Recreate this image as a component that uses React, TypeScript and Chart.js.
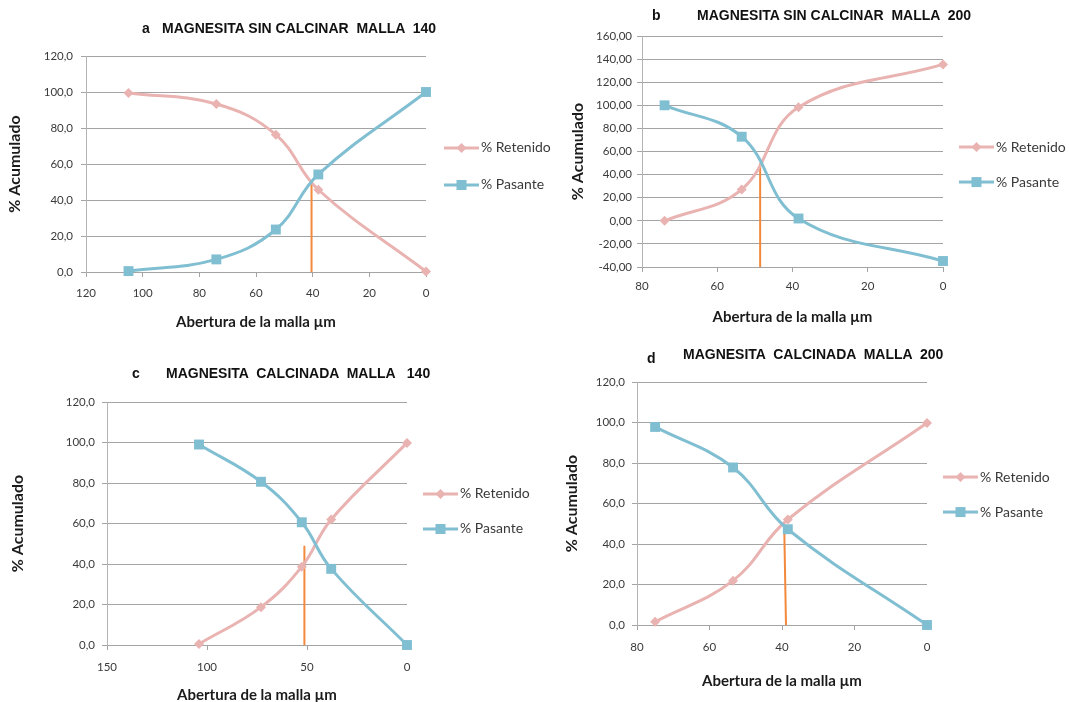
import React, { useEffect, useRef } from "react";
import { Chart, registerables } from "chart.js";

Chart.register(...registerables);
const FONT_FAMILY = "Lato, 'Liberation Sans', sans-serif";
Chart.defaults.font.family = FONT_FAMILY;

// ---------- data ----------
// a: Magnesita sin calcinar, malla 140
const aperturaA = [105, 74, 53, 38, 0];
const retenidoA = [99.5, 93.3, 76.3, 45.7, 0.3];
const pasanteA = [0.5, 7, 23.6, 54.2, 100];
const d50xA = [40.4, 40.4];
const d50yA = [0, 51];

// b: Magnesita sin calcinar, malla 200
const aperturaB = [74, 53.5, 38.4, 0];
const retenidoB = [0, 27.2, 98.3, 135.4];
const pasanteB = [100, 72.8, 2, -34.8];
const d50xB = [48.6, 48.6];
const d50yB = [-40, 50];

// c: Magnesita calcinada, malla 140
const aperturaC = [104, 73, 52.6, 37.9, 0];
const retenidoC = [0.5, 18.7, 38.7, 62, 99.8];
const pasanteC = [99, 80.6, 60.6, 37.6, 0];
const d50xC = [51.3, 51.3];
const d50yC = [0, 49];

// d: Magnesita calcinada, malla 200
const aperturaD = [75, 53.5, 38.4, 0];
const retenidoD = [1.6, 21.9, 52.1, 99.8];
const pasanteD = [97.8, 77.8, 47.3, 0];
const d50xD = [39.4, 38.9];
const d50yD = [50, 0];

const serieRetenido = "% Retenido";
const seriePasante = "% Pasante";
const xAxisTitle = "Abertura de la malla µm";
const yAxisTitle = "% Acumulado";

// ---------- styles ----------
const PINK = "#e9b3b1";
const BLUE = "#80bed2";
const ORANGE = "#f2893c";
const GRID = "#a4a4a4";
const AXIS = "#b4b4b4";
const TICK_COLOR = "#3a3a3a";
const TITLE_COLOR = "#1b1b1b";
const LEGEND_FONT = 14;
const LEGEND_BOX = 25;

function makeSymbol(color: string, shape: "diamond" | "square"): HTMLCanvasElement {
  const c = document.createElement("canvas");
  c.width = 35;
  c.height = 14;
  const g = c.getContext("2d")!;
  g.strokeStyle = color;
  g.lineWidth = 3;
  g.beginPath();
  g.moveTo(0, 7);
  g.lineTo(35, 7);
  g.stroke();
  g.fillStyle = color;
  if (shape === "diamond") {
    g.beginPath();
    g.moveTo(17.5, 2);
    g.lineTo(22.5, 7);
    g.lineTo(17.5, 12);
    g.lineTo(12.5, 7);
    g.closePath();
    g.fill();
  } else {
    g.fillRect(12.5, 2, 10, 10);
  }
  return c;
}

type Spec = {
  box: { x: number; y: number; w: number; h: number };
  xs: number[];
  ret: number[];
  pas: number[];
  d50x: number[];
  d50y: number[];
  xr: { min: number; max: number; step: number };
  yr: { min: number; max: number; step: number; dec: number };
  pad: { left: number; top: number; bottom: number };
  chartRight: number;
  yWidth: number;
  xHeight: number;
  yTickPad: number;
  xTickPad: number;
  legendPad: number;
  legendWeight: number;
};

const specs: Spec[] = [
  {
    box: { x: 0, y: 0, w: 575, h: 340 },
    xs: aperturaA, ret: retenidoA, pas: pasanteA, d50x: d50xA, d50y: d50yA,
    xr: { min: 0, max: 120, step: 20 },
    yr: { min: 0, max: 120, step: 20, dec: 1 },
    pad: { left: 5.4, top: 56, bottom: 9 },
    chartRight: 426,
    yWidth: 80.6, xHeight: 59, yTickPad: 8, xTickPad: 9, legendPad: 23, legendWeight: 1.023,
  },
  {
    box: { x: 560, y: 0, w: 530, h: 340 },
    xs: aperturaB, ret: retenidoB, pas: pasanteB, d50x: d50xB, d50y: d50yB,
    xr: { min: 0, max: 80, step: 20 },
    yr: { min: -40, max: 160, step: 20, dec: 2 },
    pad: { left: 8.4, top: 36, bottom: 14 },
    chartRight: 943,
    yWidth: 73.6, xHeight: 59, yTickPad: 5, xTickPad: 7, legendPad: 21, legendWeight: 1.113,
  },
  {
    box: { x: 0, y: 340, w: 565, h: 372 },
    xs: aperturaC, ret: retenidoC, pas: pasanteC, d50x: d50xC, d50y: d50yC,
    xr: { min: 0, max: 150, step: 50 },
    yr: { min: 0, max: 120, step: 20, dec: 1 },
    pad: { left: 8.4, top: 62, bottom: 8 },
    chartRight: 407,
    yWidth: 98.6, xHeight: 59, yTickPad: 7, xTickPad: 10, legendPad: 21, legendWeight: 0.901,
  },
  {
    box: { x: 555, y: 340, w: 530, h: 362 },
    xs: aperturaD, ret: retenidoD, pas: pasanteD, d50x: d50xD, d50y: d50yD,
    xr: { min: 0, max: 80, step: 20 },
    yr: { min: 0, max: 120, step: 20, dec: 1 },
    pad: { left: 7.4, top: 42, bottom: 12 },
    chartRight: 927,
    yWidth: 74.6, xHeight: 65, yTickPad: 7, xTickPad: 10, legendPad: 21, legendWeight: 0.926,
  },
];

const toPts = (xs: number[], ys: number[]) => xs.map((x, i) => ({ x, y: ys[i] }));

function Panel({ spec }: { spec: Spec }) {
  const ref = useRef<HTMLCanvasElement | null>(null);
  useEffect(() => {
    if (!ref.current) return;
    const symRet = makeSymbol(PINK, "diamond");
    const symPas = makeSymbol(BLUE, "square");

    // legend natural width -> right padding so that the plot ends where the reference does
    const m = document.createElement("canvas").getContext("2d")!;
    m.font = `${LEGEND_FONT}px ${FONT_FAMILY}`;
    const tw = Math.max(m.measureText(serieRetenido).width, m.measureText(seriePasante).width);
    const legendW = spec.legendPad + LEGEND_BOX + LEGEND_FONT / 2 + tw + 10;
    const padRight = Math.max(0, spec.box.x + spec.box.w - spec.chartRight - legendW);

    const chart = new Chart(ref.current, {
      type: "line",
      data: {
        datasets: [
          {
            label: seriePasante,
            data: toPts(spec.xs, spec.pas),
            borderColor: BLUE,
            backgroundColor: BLUE,
            borderWidth: 3,
            pointStyle: "rect",
            pointRadius: 7,
            pointBorderWidth: 0,
            tension: 0.4,
            clip: false,
          },
          {
            label: serieRetenido,
            data: toPts(spec.xs, spec.ret),
            borderColor: PINK,
            backgroundColor: PINK,
            borderWidth: 3,
            pointStyle: "rectRot",
            pointRadius: 5,
            pointBorderWidth: 0,
            tension: 0.4,
            clip: false,
          },
          {
            label: "d50",
            data: toPts(spec.d50x, spec.d50y),
            borderColor: ORANGE,
            borderWidth: 2,
            pointRadius: 0,
            tension: 0,
            clip: false,
          },
        ],
      },
      options: {
        animation: false,
        responsive: false,
        events: [],
        layout: { padding: { ...spec.pad, right: padRight } },
        scales: {
          x: {
            type: "linear",
            reverse: true,
            min: spec.xr.min,
            max: spec.xr.max,
            ticks: {
              stepSize: spec.xr.step,
              color: TICK_COLOR,
              font: { size: 11.5 },
              padding: spec.xTickPad,
              maxRotation: 0,
            },
            grid: { drawOnChartArea: false, drawTicks: true, tickLength: 5, color: GRID },
            border: { color: GRID },
            title: {
              display: true,
              text: xAxisTitle,
              color: TITLE_COLOR,
              font: { size: 15, weight: "bold" },
              padding: 0,
            },
            afterFit: (s: any) => {
              s.height = spec.xHeight;
            },
          },
          y: {
            type: "linear",
            min: spec.yr.min,
            max: spec.yr.max,
            ticks: {
              stepSize: spec.yr.step,
              color: TICK_COLOR,
              font: { size: 11.5 },
              padding: spec.yTickPad,
              callback: (v: any) => Number(v).toFixed(spec.yr.dec).replace(".", ","),
            },
            grid: { color: GRID, tickLength: 5, drawTicks: true },
            border: { color: AXIS },
            title: {
              display: true,
              text: yAxisTitle,
              color: TITLE_COLOR,
              font: { size: 16, weight: "bold" },
              padding: 0,
            },
            afterFit: (s: any) => {
              s.width = spec.yWidth;
            },
          },
        },
        plugins: {
          tooltip: { enabled: false },
          legend: {
            display: true,
            position: "right",
            fullSize: false,
            maxWidth: Math.ceil(legendW) + 1,
            stackWeight: spec.legendWeight,
            labels: {
              usePointStyle: true,
              pointStyleWidth: LEGEND_BOX,
              padding: spec.legendPad,
              color: "#3a3a3a",
              font: { size: LEGEND_FONT },
              generateLabels: (ch: any) => {
                const ds = ch.data.datasets;
                return [
                  { text: ds[1].label, pointStyle: symRet, fillStyle: PINK, strokeStyle: PINK, lineWidth: 0, hidden: false, datasetIndex: 1, fontColor: "#3a3a3a" },
                  { text: ds[0].label, pointStyle: symPas, fillStyle: BLUE, strokeStyle: BLUE, lineWidth: 0, hidden: false, datasetIndex: 0, fontColor: "#3a3a3a" },
                ];
              },
            },
          } as any,
        },
      } as any,
    });
    return () => chart.destroy();
  }, [spec]);
  return (
    <canvas
      ref={ref}
      width={spec.box.w}
      height={spec.box.h}
      style={{ position: "absolute", left: spec.box.x, top: spec.box.y, width: spec.box.w, height: spec.box.h }}
    />
  );
}

const titleStyle: React.CSSProperties = {
  position: "absolute",
  fontFamily: "'Liberation Sans', Arial, sans-serif",
  fontWeight: "bold",
  fontSize: 14,
  color: "#111",
  whiteSpace: "pre",
  transform: "translateY(-50%)",
  lineHeight: 1,
};

export default function App() {
  return (
    <div style={{ position: "absolute", left: 0, top: 0, width: 1069, height: 702, overflow: "hidden", background: "#fff" }}>
      {specs.map((s, i) => (
        <Panel key={i} spec={s} />
      ))}
      <span style={{ ...titleStyle, left: 142, top: 28 }}>a</span>
      <span style={{ ...titleStyle, left: 162, top: 28 }}>MAGNESITA SIN CALCINAR  MALLA  140</span>
      <span style={{ ...titleStyle, left: 652, top: 15 }}>b</span>
      <span style={{ ...titleStyle, left: 697, top: 15 }}>MAGNESITA SIN CALCINAR  MALLA  200</span>
      <span style={{ ...titleStyle, left: 132, top: 373 }}>c</span>
      <span style={{ ...titleStyle, left: 166, top: 373 }}>MAGNESITA  CALCINADA  MALLA   140</span>
      <span style={{ ...titleStyle, left: 647, top: 358 }}>d</span>
      <span style={{ ...titleStyle, left: 683, top: 354 }}>MAGNESITA  CALCINADA  MALLA  200</span>
    </div>
  );
}
